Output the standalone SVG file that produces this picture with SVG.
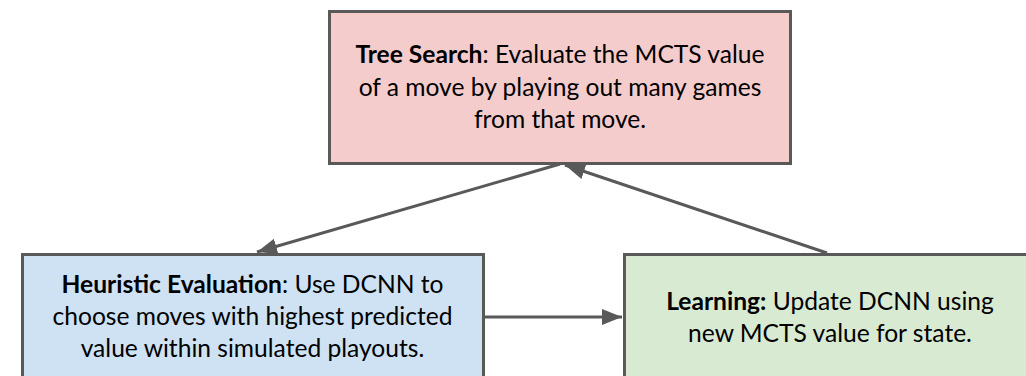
<svg xmlns="http://www.w3.org/2000/svg" width="1026" height="376" viewBox="0 0 1026 376">
<style>
.box{stroke:#595959;stroke-width:3}
.t{font-family:"Lato","Open Sans","Liberation Sans",sans-serif;font-size:24.6px;fill:#000;text-anchor:middle}
.b{font-weight:bold}
.c{stroke:#595959;stroke-width:3;fill:none}
</style>
<defs>
<marker id="ah" markerUnits="userSpaceOnUse" markerWidth="22" markerHeight="18" refX="20" refY="8" orient="auto">
<path d="M0,0 L20,8 L0,16 Z" fill="#595959"/>
</marker>
</defs>
<rect width="1026" height="376" fill="#fff"/>
<g id="connectors">
<line class="c" x1="560" y1="164" x2="257" y2="252" marker-end="url(#ah)"/>
<line class="c" x1="827" y1="253" x2="565" y2="165" marker-end="url(#ah)"/>
<line class="c" x1="484" y1="317" x2="622" y2="317" marker-end="url(#ah)"/>
</g>
<g id="tree-search">
<rect class="box" x="329.5" y="11.5" width="461" height="152" fill="#f4cccc"/>
<text class="t" x="560" y="63"><tspan class="b">Tree Search</tspan>: Evaluate the MCTS value</text>
<text class="t" x="560" y="96">of a move by playing out many games</text>
<text class="t" x="560" y="128">from that move.</text>
</g>
<g id="heuristic-evaluation">
<rect class="box" x="22.5" y="254.5" width="461" height="160" fill="#cfe2f3"/>
<text class="t" x="252.5" y="293"><tspan class="b">Heuristic Evaluation</tspan>: Use DCNN to</text>
<text class="t" x="252.5" y="325">choose moves with highest predicted</text>
<text class="t" x="252.5" y="357">value within simulated playouts.</text>
</g>
<g id="learning">
<rect class="box" x="624.5" y="254.5" width="411" height="160" fill="#d9ead3"/>
<text class="t" x="830" y="310"><tspan class="b">Learning:</tspan> Update DCNN using</text>
<text class="t" x="830" y="342">new MCTS value for state.</text>
</g>
</svg>
